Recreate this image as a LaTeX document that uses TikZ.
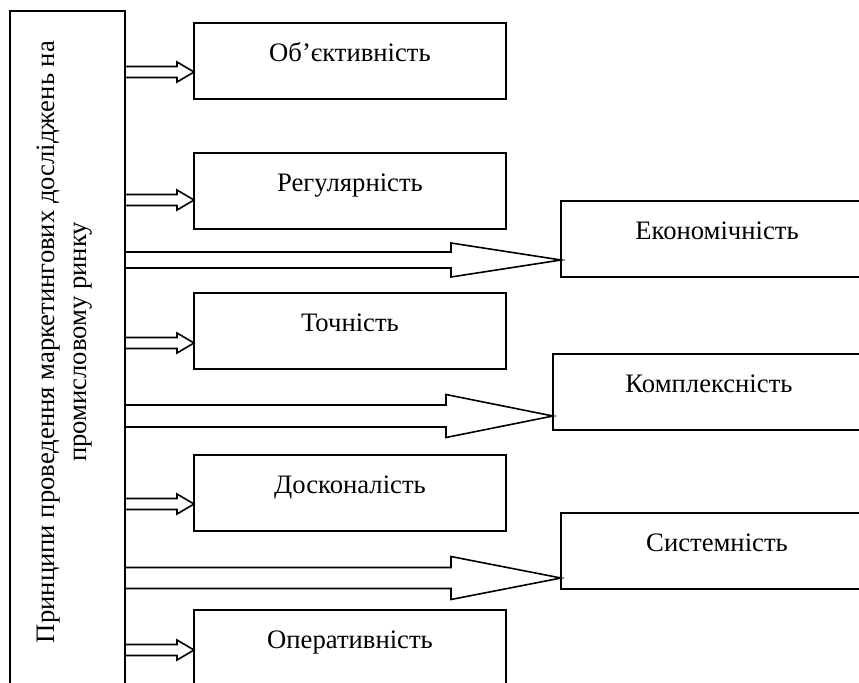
\documentclass[tikz,border=0pt]{standalone}
\usepackage{fontspec}
\setmainfont{Liberation Serif}
\usetikzlibrary{positioning}
\usetikzlibrary{calc}

\tikzset{
  princ/.style={draw, line width=1.2pt, anchor=north west, outer sep=0pt,
    inner xsep=0pt, inner ysep=0pt, minimum width=234pt,
    text height=28.5pt, text depth=28.5pt, font=\fontsize{20}{24}\selectfont},
  blockarr/.style={draw, line width=1.2pt, line join=miter},
}

\begin{document}
\begin{tikzpicture}[x=0.75pt, y=-0.75pt]
 \useasboundingbox (0,0) rectangle (859,682);
 \clip (0,0) rectangle (859,682);

 %left bar
 \node[draw, line width=1.2pt, anchor=north west, outer sep=0pt, inner sep=0pt,
   minimum width=86.25pt, minimum height=516.75pt] (bar) at (10,11) {};
 \node[rotate=90, align=center, font=\fontsize{20}{24}\selectfont] (title) at (65,342)
   {Принципи проведення маркетингових досліджень на\\промисловому ринку};

 %level 1
 \foreach \name/\x/\y/\txt in {obj/194/23/Об’єктивність, reg/194/153/Регулярність,
     toch/194/293/Точність, dosk/194/455/Досконалість, oper/194/610/Оперативність} {
   \node[princ] (\name) at (\x,\y) {\txt};
 }

 %level 2
 \foreach \name/\x/\y/\txt in {ekon/561/201/Економічність, kompl/553/354/Комплексність,
     syst/561/513/Системність} {
   \node[princ] (\name) at (\x,\y) {\txt};
 }

 %arrows
 \foreach \trg/\y/\sh/\hh/\hl in {obj/72/5.5/10/17, reg/200/5.5/10/17, toch/343/5.5/10/17,
     dosk/504/5.5/10/17, oper/650/5.5/10/17,
     ekon/260/8/17/110, kompl/416/11/21.5/107, syst/578/10.5/21.5/110} {
   \coordinate (s) at (bar.east |- 0,\y);
   \coordinate (t) at (\trg.west |- 0,\y);
   \draw[blockarr] ($(s)+(0,-\sh)$) -- ($(t)+(-\hl,-\sh)$) -- ($(t)+(-\hl,-\hh)$) -- (t)
     -- ($(t)+(-\hl,\hh)$) -- ($(t)+(-\hl,\sh)$) -- ($(s)+(0,\sh)$);
 }

\end{tikzpicture}
\end{document}
